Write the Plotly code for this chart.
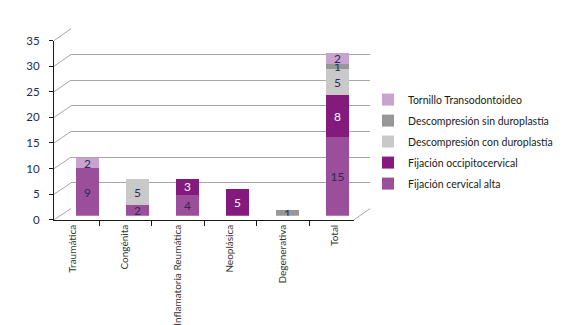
import plotly.graph_objects as go

categories = ["Traumática", "Congénita", "Inflamatoria Reumática", "Neoplásica", "Degenerativa", "Total"]
series_names = ["Fijación cervical alta", "Fijación occipitocervical", "Descompresión con duroplastía",
                "Descompresión sin duroplastía", "Tornillo Transodontoideo"]
fijacion_cervical_alta = [9, 2, 4, None, None, 15]
fijacion_occipitocervical = [None, None, 3, 5, None, 8]
descompresion_con = [None, 5, None, None, None, 5]
descompresion_sin = [None, None, None, None, 1, 1]
tornillo = [2, None, None, None, None, 2]
y_ticks = [0, 5, 10, 15, 20, 25, 30, 35]

series_values = [fijacion_cervical_alta, fijacion_occipitocervical, descompresion_con, descompresion_sin, tornillo]
colors = ["#9b4f9b", "#851a7e", "#c9c9c9", "#979797", "#c9a2cf"]
text_colors = ["#2a2a55", "#ffffff", "#2a2a55", "#2a2a55", "#2a2a55"]

W, H = 578, 325
def px(x): return x / W
def py(y): return 1 - y / H

# geometry of pseudo-3D planes (pixels)
front = dict(x0=46, x1=346, y0=213.3, y1=26.7)
back = dict(x0=63, x1=362, y0=201.7, y1=14.3)
mid = dict(x0=54.5, x1=354.5, y0=209, y1=18)
ymax = 35

fig = go.Figure()

n = len(series_names)
for i, (name, vals, c, tc) in enumerate(zip(series_names, series_values, colors, text_colors)):
    fig.add_trace(go.Bar(
        x=categories, y=vals, name=name, legendgroup=f"g{i}", legendrank=1000 + (n - i),
        marker=dict(color=c, line=dict(width=0)),
        text=[("" if v is None else str(v)) for v in vals], textposition="inside",
        insidetextanchor="middle", textangle=0,
        textfont=dict(color=tc, size=12, family="Lato"),
        xaxis="x3", yaxis="y3", hoverinfo="skip"))

# invisible helper traces to create front and back axes
fig.add_trace(go.Scatter(x=categories, y=[None] * len(categories), mode="markers",
                         showlegend=False, hoverinfo="skip", xaxis="x", yaxis="y"))
fig.add_trace(go.Scatter(x=categories, y=[None] * len(categories), mode="markers",
                         showlegend=False, hoverinfo="skip", xaxis="x2", yaxis="y2"))

grid_col = "#a6a6a6"
shapes = []
def yf(v): return front["y0"] - v * (front["y0"] - front["y1"]) / ymax
def yb(v): return back["y0"] - v * (back["y0"] - back["y1"]) / ymax
for v in y_ticks:
    shapes.append(dict(type="line", xref="paper", yref="paper",
                       x0=px(front["x0"]), y0=py(yf(v)), x1=px(back["x0"]), y1=py(yb(v)),
                       line=dict(color=grid_col, width=1)))
shapes.append(dict(type="line", xref="paper", yref="paper",
                   x0=px(front["x1"]), y0=py(yf(0)), x1=px(back["x1"]), y1=py(yb(0)),
                   line=dict(color=grid_col, width=1)))

tick_font = dict(family="Lato", size=11.5, color="#1f2a55")

fig.update_layout(
    width=W, height=H, margin=dict(l=0, r=0, t=0, b=0),
    paper_bgcolor="white", plot_bgcolor="rgba(0,0,0,0)",
    barmode="stack", bargap=0.54, showlegend=True,
    uniformtext=dict(minsize=11, mode="show"),
    shapes=shapes,
    xaxis=dict(domain=[px(front["x0"]), px(front["x1"])], anchor="y", type="category",
               showline=True, linecolor="#1a1a1a", linewidth=1, ticks="outside", ticklen=5,
               tickcolor="#1a1a1a", tickson="boundaries", tickangle=-90, showgrid=False,
               tickfont=dict(family="Lato", size=10, color="#333333"), zeroline=False),
    yaxis=dict(domain=[py(front["y0"]), py(front["y1"])], anchor="x", range=[0, ymax],
               tickvals=y_ticks, showline=True, linecolor="#1a1a1a", linewidth=1,
               ticks="outside", ticklen=4, tickcolor="#1a1a1a", showgrid=False,
               ticklabelstandoff=7,
               zeroline=False, tickfont=tick_font),
    xaxis2=dict(domain=[px(back["x0"]), px(back["x1"])], anchor="y2", type="category",
                visible=False, showgrid=False),
    yaxis2=dict(domain=[py(back["y0"]), py(back["y1"])], anchor="x2", range=[0, ymax],
                tickvals=y_ticks, showgrid=True, gridcolor=grid_col, gridwidth=1,
                showticklabels=False, ticks="", zeroline=False, showline=False),
    xaxis3=dict(domain=[px(mid["x0"]), px(mid["x1"])], anchor="y3", type="category",
                visible=False),
    yaxis3=dict(domain=[py(mid["y0"]), py(mid["y1"])], anchor="x3", range=[0, ymax],
                visible=False),
    legend=dict(x=px(360), y=py(73), xanchor="left", yanchor="top",
                traceorder="grouped", tracegroupgap=2,
                font=dict(family="Lato", size=10.5, color="#1a1a1a"), bgcolor="rgba(0,0,0,0)",
                itemwidth=30),
)

fig.write_html("out.html")
